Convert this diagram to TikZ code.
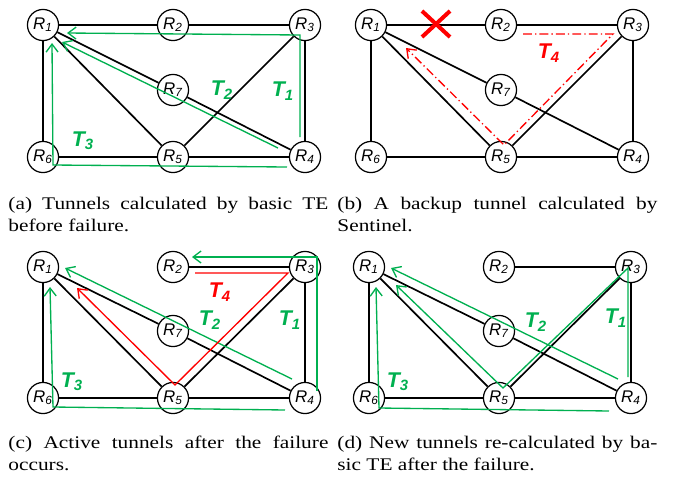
\documentclass[tikz,border=0pt]{standalone}
\usepackage{fontspec}
\setmainfont{Liberation Serif}[FakeStretch=1.2]
\newfontfamily\routerfont{Liberation Sans}
\usetikzlibrary{calc}
\usetikzlibrary{arrows.meta}
\definecolor{tegreen}{RGB}{0,176,80}
\definecolor{tered}{RGB}{255,0,0}

\begin{document}
\begin{tikzpicture}[x=0.45pt,y=-0.45pt,
  router/.style={draw,circle,line width=0.55pt,minimum size=14pt,inner sep=0pt,
    font=\routerfont\itshape\fontsize{7.6}{8}\selectfont},
  link/.style={line width=0.75pt},
  tunnel/.style={draw=tegreen,line width=0.6pt,-{Straight Barb[length=3.6pt,width=5.4pt]}},
  active/.style={draw=tered,line width=0.6pt,-{Straight Barb[length=3.6pt,width=5.4pt]}},
  backup/.style={draw=tered,line width=0.6pt,dash pattern=on 4pt off 1.4pt on 0.6pt off 1.4pt,
    -{Straight Barb[length=3.6pt,width=5.4pt]}},
  tlabel/.style={inner sep=0pt,text=tegreen,font=\routerfont\bfseries\itshape\fontsize{9.6}{10}\selectfont},
  caption/.style={anchor=base west,inner sep=0pt,text width=144pt,align=justify,
    font=\fontsize{8}{9.9}\selectfont}]
\useasboundingbox (0,0) rectangle (673,477);

% (a) before failure
\node[router] (a1) at (43,25) {R\textsubscript{1}};
\node[router] (a2) at (173,25) {R\textsubscript{2}};
\node[router] (a3) at (305,25) {R\textsubscript{3}};
\node[router] (a7) at (173,90) {R\textsubscript{7}};
\node[router] (a6) at (43,157) {R\textsubscript{6}};
\node[router] (a5) at (173,157) {R\textsubscript{5}};
\node[router] (a4) at (305,157) {R\textsubscript{4}};
\draw[link] (a1) -- (a2) -- (a3) -- (a4) -- (a5) -- (a6) -- (a1);
\draw[link] (a1) -- (a7) -- (a4);
\draw[link] (a1) -- (a5) -- (a3);
\draw[tunnel] ($(a4)+(-5,-20)$) -- ($(a3)+(-5,10)$) -- ($(a1)+(24,8)$);
\draw[tunnel] ($(a4)+(-27,-9)$) -- ($(a1)+(19,17)$);
\draw[tunnel] ($(a4)+(-18,10)$) -- ($(a6)+(10,8)$) -- ($(a1)+(9,18)$);
\node[tlabel] (ta1) at (283,91) {T\textsubscript{1}};
\node[tlabel] (ta2) at (222,90) {T\textsubscript{2}};
\node[tlabel] (ta3) at (83,141) {T\textsubscript{3}};
\node[caption] (capa) at (8,209) {(a) Tunnels calculated by basic TE\linebreak before failure.};

% (b) backup tunnel
\begin{scope}[shift={(328,0)}]
\node[router] (b1) at (43,25) {R\textsubscript{1}};
\node[router] (b2) at (173,25) {R\textsubscript{2}};
\node[router] (b3) at (305,25) {R\textsubscript{3}};
\node[router] (b7) at (173,90) {R\textsubscript{7}};
\node[router] (b6) at (43,157) {R\textsubscript{6}};
\node[router] (b5) at (173,157) {R\textsubscript{5}};
\node[router] (b4) at (305,157) {R\textsubscript{4}};
\draw[link] (b1) -- (b2) -- (b3) -- (b4) -- (b5) -- (b6) -- (b1);
\draw[link] (b1) -- (b7) -- (b4);
\draw[link] (b1) -- (b5) -- (b3);
\coordinate (bx) at (108,24);
\draw[tered,line width=1.8pt] ($(bx)+(-14,-13)$) -- ($(bx)+(14,13)$);
\draw[tered,line width=1.8pt] ($(bx)+(-14,13)$) -- ($(bx)+(14,-13)$);
\draw[backup] ($(b2)+(22,9)$) -- ($(b3)+(-20,9)$) -- ($(b5)+(3,-12)$) -- ($(b1)+(35,23)$);
\node[tlabel,text=tered] (tb4) at (221,53) {T\textsubscript{4}};
\node[caption] (capb) at (9,209) {(b) A backup tunnel calculated by\linebreak Sentinel.};
\end{scope}

% (c) active tunnels after failure
\begin{scope}[shift={(0,242)}]
\node[router] (c1) at (43,25) {R\textsubscript{1}};
\node[router] (c2) at (173,25) {R\textsubscript{2}};
\node[router] (c3) at (305,25) {R\textsubscript{3}};
\node[router] (c7) at (173,89) {R\textsubscript{7}};
\node[router] (c6) at (43,156) {R\textsubscript{6}};
\node[router] (c5) at (173,156) {R\textsubscript{5}};
\node[router] (c4) at (305,156) {R\textsubscript{4}};
\draw[link] (c2) -- (c3) -- (c4) -- (c5) -- (c6) -- (c1);
\draw[link] (c1) -- (c7) -- (c4);
\draw[link] (c1) -- (c5) -- (c3);
\draw[tunnel] ($(c4)+(12,-7)$) -- ($(c3)+(12,-10)$) -- ($(c2)+(19,-10)$);
\draw[tunnel] ($(c4)+(-13,-19)$) -- ($(c1)+(22,1)$);
\draw[tunnel] ($(c4)+(-20,12)$) -- ($(c6)+(10,9)$) -- ($(c1)+(7,20)$);
\draw[active] ($(c2)+(22,6)$) -- ($(c3)+(-17,6)$) -- ($(c5)+(2,-13)$) -- ($(c1)+(34,21)$);
\node[tlabel,text=tered] (tc4) at (220,50) {T\textsubscript{4}};
\node[tlabel] (tc1) at (290,78) {T\textsubscript{1}};
\node[tlabel] (tc2) at (210,78) {T\textsubscript{2}};
\node[tlabel] (tc3) at (72,140) {T\textsubscript{3}};
\node[caption] (capc) at (8,206) {(c) Active tunnels after the failure\linebreak occurs.};
\end{scope}

% (d) re-calculated tunnels
\begin{scope}[shift={(326,242)}]
\node[router] (d1) at (43,25) {R\textsubscript{1}};
\node[router] (d2) at (173,25) {R\textsubscript{2}};
\node[router] (d3) at (305,25) {R\textsubscript{3}};
\node[router] (d7) at (173,89) {R\textsubscript{7}};
\node[router] (d6) at (43,156) {R\textsubscript{6}};
\node[router] (d5) at (173,156) {R\textsubscript{5}};
\node[router] (d4) at (305,156) {R\textsubscript{4}};
\draw[link] (d2) -- (d3) -- (d4) -- (d5) -- (d6) -- (d1);
\draw[link] (d1) -- (d7) -- (d4);
\draw[link] (d1) -- (d5) -- (d3);
\draw[tunnel] ($(d4)+(-3,-21)$) -- ($(d3)+(-3,1)$) -- ($(d5)+(4,-10)$) -- ($(d1)+(27,18)$);
\draw[tunnel] ($(d4)+(-13,-19)$) -- ($(d1)+(22,1)$);
\draw[tunnel] ($(d4)+(-22,13)$) -- ($(d6)+(10,10)$) -- ($(d1)+(7,20)$);
\node[tlabel] (td1) at (290,76) {T\textsubscript{1}};
\node[tlabel] (td2) at (210,80) {T\textsubscript{2}};
\node[tlabel] (td3) at (72,140) {T\textsubscript{3}};
\node[caption] (capd) at (11,206) {(d) New tunnels re-calculated by ba-\linebreak sic TE after the failure.};
\end{scope}
\end{tikzpicture}
\end{document}
